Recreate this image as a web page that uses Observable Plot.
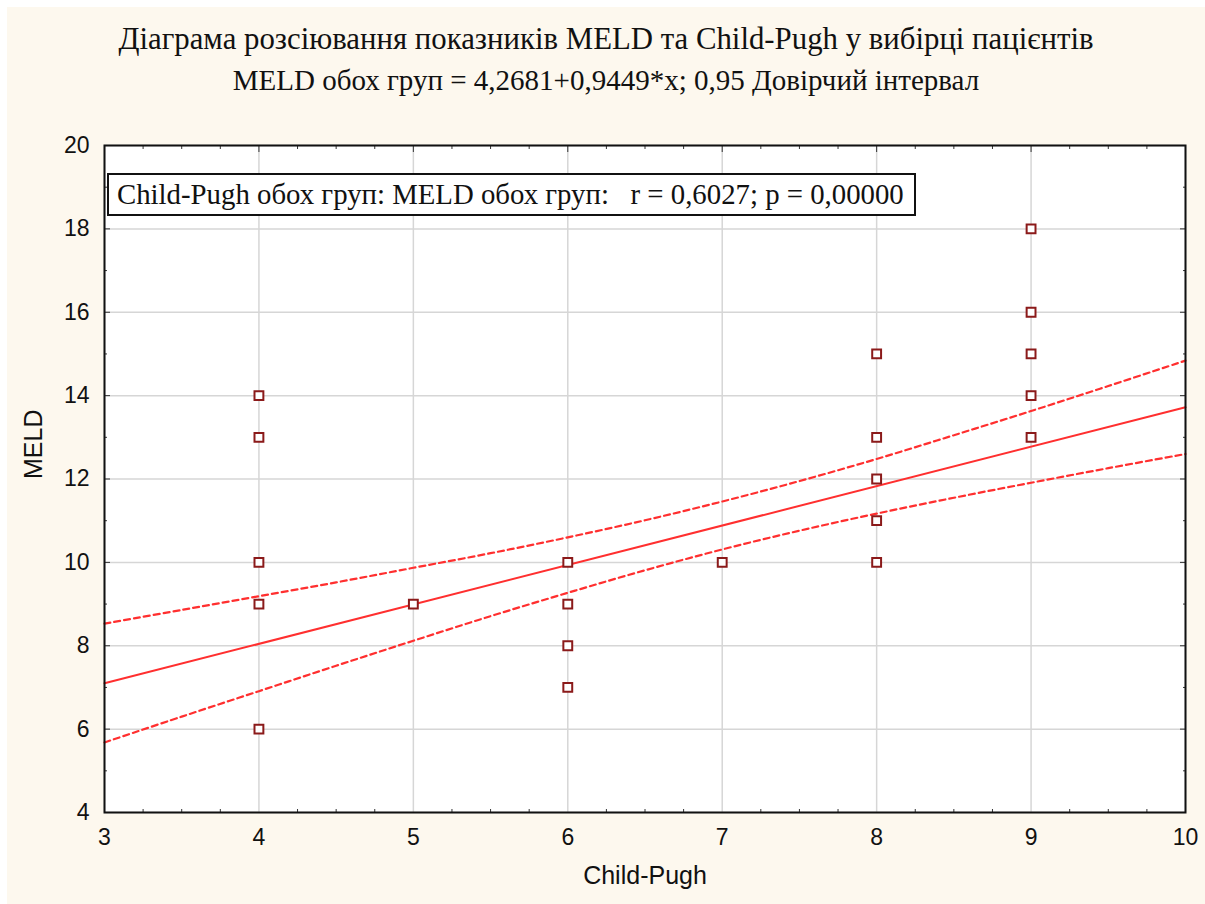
<!DOCTYPE html>
<html>
<head>
<meta charset="utf-8">
<script src="https://cdn.jsdelivr.net/npm/d3@7"></script>
<script src="https://cdn.jsdelivr.net/npm/@observablehq/plot@0.6"></script>
<style>
  html, body { margin: 0; padding: 0; background: #ffffff; }
  #page { position: relative; width: 1205px; height: 904px; overflow: hidden; }
  #bg { position: absolute; left: 7px; top: 7px; width: 1198px; height: 897px; background: #fdf8ee; }
  .title { position: absolute; left: 7px; width: 1198px; text-align: center; font-family: "Liberation Serif", "Times New Roman", serif; color: #111; white-space: nowrap; line-height: 1; }
  #t1 { top: 24px; font-size: 30.8px; }
  #t2 { top: 66px; font-size: 29px; }
  #plot { position: absolute; left: 0; top: 110px; }
  #note { position: absolute; left: 107px; top: 173px; width: 797px; height: 39px; border: 2px solid #111; background: #fff;
          font-family: "Liberation Serif", "Times New Roman", serif; font-size: 28.8px; line-height: 39px; padding-left: 8px; box-sizing: content-box; color: #111; white-space: pre; overflow: hidden; }
</style>
</head>
<body>
<div id="page">
  <div id="bg"></div>
  <div class="title" id="t1">Діаграма розсіювання показників MELD та Child-Pugh у вибірці пацієнтів</div>
  <div class="title" id="t2">MELD обох груп = 4,2681+0,9449*x; 0,95 Довірчий інтервал</div>
  <div id="plot"></div>
  <div id="note">Child-Pugh обох груп: MELD обох груп:   r = 0,6027; p = 0,00000</div>
</div>
<script>
// Scatter data (Child-Pugh, MELD)
const childPugh = [4, 4, 4, 4, 4, 5, 6, 6, 6, 6, 7, 8, 8, 8, 8, 8, 9, 9, 9, 9, 9];
const meld      = [14, 13, 10, 9, 6, 9, 10, 9, 8, 7, 10, 15, 13, 12, 11, 10, 18, 16, 15, 14, 13];

// Regression line (endpoints: MELD = 4,2681 + 0,9449*x)
const fitX = [3, 10];
const fitY = [7.10, 13.72];

// 0.95 confidence band
const bandX     = [3, 3.5, 4, 4.5, 5, 5.5, 6, 6.5, 7, 7.5, 8, 8.5, 9, 9.5, 10];
const bandUpper = [8.53, 8.86, 9.19, 9.52, 9.87, 10.22, 10.60, 11.01, 11.46, 11.95, 12.48, 13.05, 13.63, 14.23, 14.84];
const bandLower = [5.68, 6.30, 6.91, 7.52, 8.12, 8.71, 9.27, 9.81, 10.31, 10.76, 11.17, 11.55, 11.91, 12.26, 12.60];

// Ticks
const xTicks = [3, 4, 5, 6, 7, 8, 9, 10];
const xMinor = [3.25, 3.5, 3.75, 4.25, 4.5, 4.75, 5.25, 5.5, 5.75, 6.25, 6.5, 6.75, 7.25, 7.5, 7.75, 8.25, 8.5, 8.75, 9.25, 9.5, 9.75];
const yTicks = [4, 6, 8, 10, 12, 14, 16, 18, 20];
const yMinor = [5, 7, 9, 11, 13, 15, 17, 19];

const points = childPugh.map((x, i) => ({x, y: meld[i]}));
const fit = fitX.map((x, i) => ({x, y: fitY[i]}));
const upper = bandX.map((x, i) => ({x, y: bandUpper[i]}));
const lower = bandX.map((x, i) => ({x, y: bandLower[i]}));

const red = "#ff2f2f";
const fmt = d => String(d);

const chart = Plot.plot({
  width: 1205,
  height: 794,
  marginLeft: 104,
  marginRight: 20,
  marginTop: 35,
  marginBottom: 92,
  style: {background: "transparent", fontFamily: "Liberation Sans, Arial, sans-serif", fontSize: "23px", color: "#111", overflow: "visible"},
  x: {domain: [3, 10]},
  y: {domain: [4, 20]},
  marks: [
    Plot.frame({fill: "white", stroke: "none"}),
    Plot.gridX(xTicks, {stroke: "#d6d6d6", strokeOpacity: 1, strokeWidth: 1.5}),
    Plot.gridY(yTicks, {stroke: "#d6d6d6", strokeOpacity: 1, strokeWidth: 1.5}),
    // inward ticks
    Plot.axisX(xMinor, {anchor: "bottom", tickSize: -3, text: null, stroke: "#333", label: null}),
    Plot.axisX(xMinor, {anchor: "top", tickSize: -3, text: null, stroke: "#333", label: null}),
    Plot.axisX(xTicks, {anchor: "top", tickSize: -6, text: null, stroke: "#333", label: null}),
    Plot.axisY(yMinor, {anchor: "left", tickSize: -3, text: null, stroke: "#333", label: null}),
    Plot.axisY(yMinor, {anchor: "right", tickSize: -3, text: null, stroke: "#333", label: null}),
    Plot.axisY(yTicks, {anchor: "right", tickSize: -6, text: null, stroke: "#333", label: null}),
    Plot.axisY(yTicks, {anchor: "left", tickSize: -6, text: null, stroke: "#333", label: null}),
    // labelled axes
    Plot.axisX(xTicks, {anchor: "bottom", tickSize: 0, tickPadding: 16, label: null, fontSize: 23, tickFormat: fmt}),
    Plot.axisY(yTicks, {anchor: "left", tickSize: 0, tickPadding: 15, label: null, fontSize: 23, tickFormat: fmt}),
    Plot.text(["Child-Pugh"], {frameAnchor: "bottom", dy: 71, fontSize: 25, fill: "#111"}),
    Plot.text(["MELD"], {frameAnchor: "left", dx: -71, rotate: -90, fontSize: 25, fill: "#111"}),
    // confidence band and fit
    Plot.line(upper, {x: "x", y: "y", stroke: red, strokeWidth: 2.2, strokeDasharray: "6,4", curve: "catmull-rom"}),
    Plot.line(lower, {x: "x", y: "y", stroke: red, strokeWidth: 2.2, strokeDasharray: "6,4", curve: "catmull-rom"}),
    Plot.line(fit, {x: "x", y: "y", stroke: red, strokeWidth: 2}),
    // points
    Plot.dot(points, {x: "x", y: "y", symbol: "square", r: 5, stroke: "#8b1a1a", strokeWidth: 2, fill: "white"}),
    Plot.frame({stroke: "#111", strokeWidth: 2})
  ]
});
document.getElementById("plot").appendChild(chart);
</script>
</body>
</html>
